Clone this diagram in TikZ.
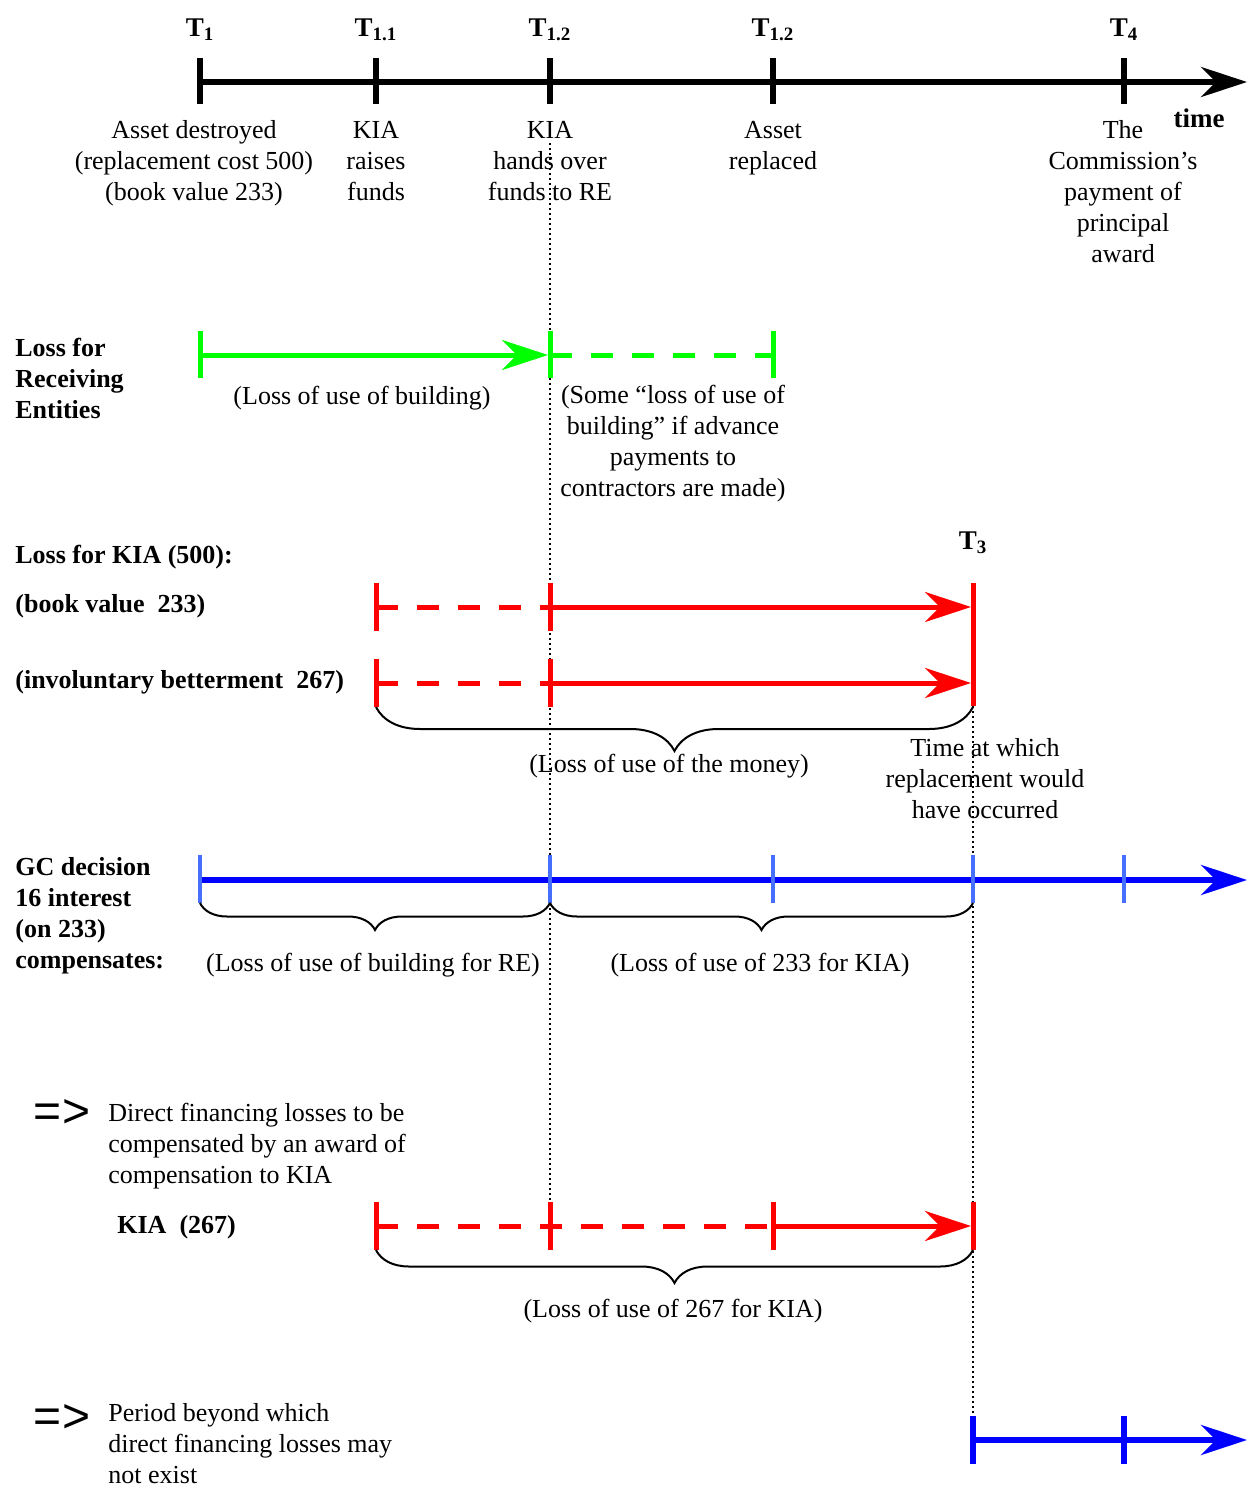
\documentclass[tikz,border=0pt]{standalone}
\usepackage{fontspec}
\setmainfont{Liberation Serif}
\newfontfamily\symfont{Liberation Sans}
\usetikzlibrary{arrows.meta,decorations.pathreplacing}
\definecolor{gr}{RGB}{0,255,0}
\definecolor{rd}{RGB}{255,0,0}
\definecolor{bl}{RGB}{0,0,255}
\definecolor{tbl}{RGB}{70,110,255}
\tikzset{
  lbl/.style={font=\fontsize{13}{15.5}\selectfont, align=center, inner sep=0pt},
  blbl/.style={font=\fontsize{13}{15.5}\selectfont\bfseries, align=left, inner sep=0pt, anchor=west},
  llbl/.style={font=\fontsize{13}{15.5}\selectfont, align=left, inner sep=0pt, anchor=west},
  tlbl/.style={font=\fontsize{13.5}{16}\selectfont\bfseries, inner sep=0pt, anchor=base},
  implies/.style={font=\fontsize{24}{24}\selectfont\symfont, inner sep=0pt},
  blackline/.style={line width=3pt, black},
  blacktick/.style={line width=3pt, black},
  greenline/.style={line width=2.5pt, gr},
  redline/.style={line width=2.5pt, rd},
  blueline/.style={line width=3pt, bl},
  bluetick/.style={line width=2.2pt, tbl},
  dashedline/.style={dash pattern=on 11pt off 9.5pt},
  guide/.style={line width=0.8pt, dash pattern=on 1pt off 1.5pt},
  curly/.style={line width=1pt, decorate, decoration={brace, mirror, amplitude=#1}},
  >={Stealth[length=23pt,width=15pt]}
}
\begin{document}
\begin{tikzpicture}[x=0.5pt,y=-0.5pt]
\useasboundingbox (0,0) rectangle (1248,1490);

% guide lines (dotted)
\coordinate (g1a) at (550,143);
\coordinate (g1b) at (550,1202);
\coordinate (g2a) at (973,706);
\coordinate (g2b) at (973,1416);
\draw[guide] (g1a) -- (g1b);
\draw[guide] (g2a) -- (g2b);

% ---------------- top time axis ----------------
\coordinate (a1) at (200,82);
\coordinate (a11) at (376,82);
\coordinate (a12) at (550,82);
\coordinate (a13) at (773,82);
\coordinate (a4) at (1124,82);
\coordinate (aend) at (1247,82);
\draw[blackline,->] (a1) -- (aend);
\foreach \p in {a1,a11,a12,a13,a4}
  \draw[blacktick] ([yshift=12pt]\p) -- ([yshift=-11pt]\p);

\node[tlbl] (T1) at (200,36) {T\textsubscript{1}};
\node[tlbl] (T11) at (376,36) {T\textsubscript{1.1}};
\node[tlbl] (T12) at (550,36) {T\textsubscript{1.2}};
\node[tlbl] (T13) at (773,36) {T\textsubscript{1.2}};
\node[tlbl] (T4) at (1124,36) {T\textsubscript{4}};
\node[font=\fontsize{13.5}{16}\selectfont\bfseries, inner sep=0pt] (time) at (1199,118) {time};

\node[lbl] (d1) at (194,163) {Asset destroyed\\(replacement cost 500)\\(book value 233)};
\node[lbl] (d11) at (376,161) {KIA\\raises\\funds};
\node[lbl] (d12) at (550,161) {KIA\\hands over\\funds to RE};
\node[lbl] (d13) at (773,148) {Asset\\replaced};
\node[lbl] (d4) at (1123,192) {The\\Commission’s\\payment of\\principal\\award};

% ---------------- Receiving entities ----------------
\node[blbl] (lre) at (15,378) {Loss for\\Receiving\\Entities};
\coordinate (g0) at (200,355);
\coordinate (g1) at (550,355);
\coordinate (g2) at (773,355);
\draw[greenline,->] (g0) -- ([xshift=-1pt]g1);
\draw[greenline,dashedline] (g1) -- (g2);
\foreach \p in {g0,g1,g2}
  \draw[greenline] ([yshift=12pt]\p) -- ([yshift=-11.5pt]\p);
\node[lbl] (lub) at (362,398) {(Loss of use of building)};
\node[lbl] (slub) at (673,444) {(Some “loss of use of\\building” if advance\\payments to\\contractors are made)};

% ---------------- KIA losses ----------------
\node[blbl] (lkia) at (15,557) {Loss for KIA (500):};
\node[tlbl] (T3) at (973,549) {T\textsubscript{3}};
\node[blbl] (lbv) at (15,606) {(book value\ \ 233)};
\node[blbl] (lib) at (15,682) {(involuntary betterment\ \ 267)};

\coordinate (r1a) at (376,607);
\coordinate (r1b) at (550,607);
\coordinate (r1c) at (973,607);
\coordinate (r2a) at (376,683);
\coordinate (r2b) at (550,683);
\coordinate (r2c) at (973,683);
\draw[redline,dashedline] (r1a) -- (r1b);
\draw[redline,->] (r1b) -- ([xshift=-1pt]r1c);
\draw[redline,dashedline] (r2a) -- (r2b);
\draw[redline,->] (r2b) -- ([xshift=-1pt]r2c);
\foreach \p in {r1a,r1b,r2a,r2b}
  \draw[redline] ([yshift=12pt]\p) -- ([yshift=-12pt]\p);
\draw[redline] ([yshift=12pt]r1c) -- ([yshift=-11.5pt]r2c);
\draw[curly=22pt] (376,707) -- (973,707);
\node[lbl] (lum) at (669,766) {(Loss of use of the money)};
\node[lbl] (twr) at (985,779) {Time at which\\replacement would\\have occurred};

% ---------------- GC decision 16 ----------------
\node[blbl] (lgc) at (15,916) {GC decision\\16 interest\\(on 233)\\compensates:};
\coordinate (b0) at (200,880);
\coordinate (b1) at (550,880);
\coordinate (b2) at (773,880);
\coordinate (b3) at (973,880);
\coordinate (b4) at (1124,880);
\coordinate (bend) at (1247,880);
\draw[blueline,->] (b0) -- (bend);
\foreach \p in {b0,b1,b2,b3,b4}
  \draw[bluetick] ([yshift=12.5pt]\p) -- ([yshift=-11.5pt]\p);
\draw[curly=13.5pt] (200,903) -- (550,903);
\draw[curly=13.5pt] (550,903) -- (973,903);
\node[lbl] (lbre) at (373,965) {(Loss of use of building for RE)};
\node[lbl] (l233) at (760,965) {(Loss of use of 233 for KIA)};

% ---------------- Direct financing losses ----------------
\node[implies] (imp1) at (62,1113) {=>};
\node[llbl] (dfl) at (108,1146) {Direct financing losses to be\\compensated by an award of\\compensation to KIA};
\node[blbl] (k267) at (117,1227) {KIA\ \ (267)};
\coordinate (k0) at (376,1226);
\coordinate (k1) at (550,1226);
\coordinate (k2) at (773,1226);
\coordinate (k3) at (973,1226);
\draw[redline,dashedline] (k0) -- (k2);
\draw[redline,->] (k2) -- ([xshift=-1pt]k3);
\foreach \p in {k0,k1,k2,k3}
  \draw[redline] ([yshift=12pt]\p) -- ([yshift=-12pt]\p);
\draw[curly=16.5pt] (376,1250) -- (973,1250);
\node[lbl] (l267) at (673,1311) {(Loss of use of 267 for KIA)};

% ---------------- Period beyond ----------------
\node[implies] (imp2) at (62,1418) {=>};
\node[llbl] (pbw) at (108,1444) {Period beyond which\\direct financing losses may\\not exist};
\coordinate (p0) at (973,1440);
\coordinate (p1) at (1124,1440);
\coordinate (pend) at (1247,1440);
\draw[blueline,->] (p0) -- (pend);
\foreach \p in {p0,p1}
  \draw[blueline] ([yshift=12pt]\p) -- ([yshift=-12pt]\p);
\end{tikzpicture}
\end{document}
